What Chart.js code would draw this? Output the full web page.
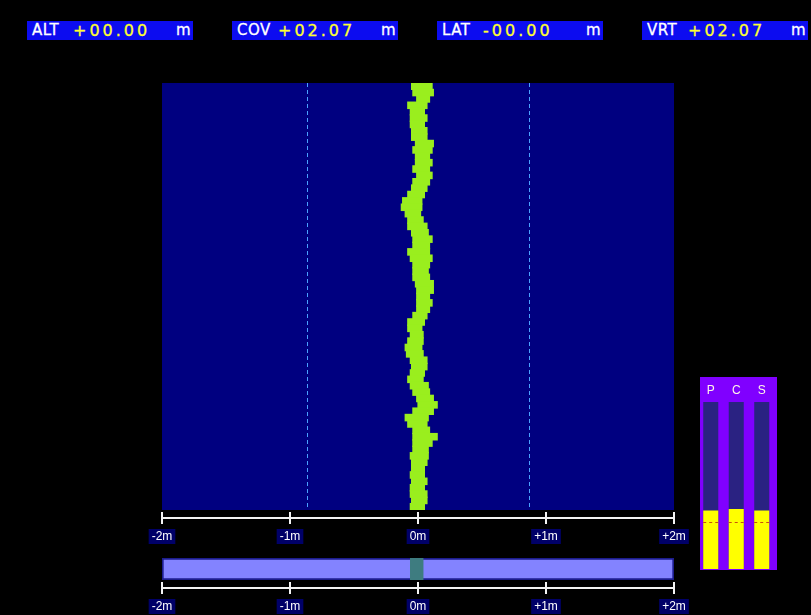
<!DOCTYPE html>
<html>
<head>
<meta charset="utf-8">
<script src="https://cdn.jsdelivr.net/npm/chart.js@4.4.1/dist/chart.umd.min.js"></script>
<style>
  html, body { margin: 0; padding: 0; background: #000; }
  body { width: 811px; height: 615px; position: relative; overflow: hidden; }
  canvas { position: absolute; }
  .readout {
    position: absolute; top: 21px; height: 19px; width: 166px;
    background: #0c0cf0; font-family: 'DejaVu Sans', sans-serif; font-size: 15px;
    line-height: 19px; color: #fff; -webkit-text-stroke: 0.3px currentColor;
  }
  .readout span { position: absolute; top: 0; }
  .readout .lbl { left: 5px; letter-spacing: 0.5px; }
  .readout .val { left: 46px; color: #ffff30; letter-spacing: 3px; font-size: 16px; }
  .readout .unit { left: 149px; }
</style>
</head>
<body>
<div id="readouts"></div>
<canvas id="trace" width="811" height="615" style="left:0;top:0"></canvas>
<canvas id="slider" width="811" height="65" style="left:0;top:550px"></canvas>
<canvas id="gauge" width="85" height="193" style="left:695px;top:377px"></canvas>

<script>
/* --- Data --- */
const readoutNames = ['ALT', 'COV', 'LAT', 'VRT'];
const readoutValues = ['+00.00', '+02.07', '-00.00', '+02.07'];
const readoutLeft = [27, 232, 437, 642];

// lateral scale, metres
const tickValues = [-2, -1, 0, 1, 2];
const tickLabels = ['-2m', '-1m', '0m', '+1m', '+2m'];
const guideValues = [-0.87, 0.87];

// trace band edges per row (top to bottom), metres
const rowLeft = [
  -0.05, -0.04, -0.01, -0.08, -0.06, -0.06, -0.06, -0.05, -0.05, -0.02,
  -0.04, -0.02, -0.02, -0.04, -0.01, -0.04, -0.05, -0.08, -0.12, -0.13,
  -0.10, -0.08, -0.08, -0.05, -0.04, -0.04, -0.08, -0.06, -0.04, -0.04,
  -0.04, -0.02, -0.01, -0.01, -0.01, -0.01, -0.04, -0.08, -0.08, -0.06,
  -0.08, -0.10, -0.09, -0.06, -0.05, -0.06, -0.08, -0.06, -0.04, -0.01,
   0.00, -0.04, -0.10, -0.08, -0.04, -0.04, -0.04, -0.04, -0.06, -0.05,
  -0.05, -0.06, -0.05, -0.06, -0.06, -0.05, -0.06
];
const rowRight = [
  0.11, 0.12, 0.09, 0.07, 0.05, 0.07, 0.05, 0.07, 0.07, 0.12,
  0.11, 0.09, 0.11, 0.09, 0.11, 0.09, 0.07, 0.05, 0.03, 0.03,
  0.02, 0.04, 0.07, 0.08, 0.11, 0.09, 0.09, 0.11, 0.09, 0.08,
  0.09, 0.12, 0.12, 0.09, 0.11, 0.09, 0.07, 0.05, 0.03, 0.04,
  0.04, 0.03, 0.04, 0.07, 0.07, 0.05, 0.04, 0.08, 0.09, 0.12,
  0.15, 0.12, 0.08, 0.07, 0.09, 0.15, 0.11, 0.08, 0.08, 0.07,
  0.05, 0.05, 0.07, 0.05, 0.07, 0.07, 0.05
];
const rows = rowLeft.map((_, i) => String(i + 1));

// position slider
const sliderRange = [-2, 2];
const sliderMarker = [-0.06, 0.04];

// P / C / S gauge, percent of full column
const gaugeNames = ['P', 'C', 'S'];
const gaugeLevels = [35, 36, 35];
const gaugeFull = [100, 100, 100];
const gaugeThreshold = 28;

/* --- Readout boxes --- */
const holder = document.getElementById('readouts');
readoutNames.forEach((name, i) => {
  const d = document.createElement('div');
  d.className = 'readout';
  d.style.left = readoutLeft[i] + 'px';
  d.innerHTML = '<span class="lbl">' + name + '</span><span class="val">' +
    readoutValues[i] + '</span><span class="unit">m</span>';
  holder.appendChild(d);
});

/* --- Shared plugins --- */
const areaFill = color => ({
  id: 'areaFill',
  beforeDraw(chart) {
    const a = chart.chartArea, c = chart.ctx;
    c.save();
    c.fillStyle = color;
    c.fillRect(a.left, a.top, a.right - a.left, a.bottom - a.top);
    c.restore();
  }
});

// white ruler under the chart area with boxed labels
const meterAxis = {
  id: 'meterAxis',
  afterDraw(chart) {
    const a = chart.chartArea, c = chart.ctx, x = chart.scales.x;
    const y0 = a.bottom + 8;
    c.save();
    c.strokeStyle = '#f4f4f4';
    c.lineWidth = 2;
    c.beginPath();
    c.moveTo(x.getPixelForValue(tickValues[0]), y0);
    c.lineTo(x.getPixelForValue(tickValues[tickValues.length - 1]), y0);
    tickValues.forEach(v => {
      const px = Math.round(x.getPixelForValue(v));
      c.moveTo(px, y0 - 6);
      c.lineTo(px, y0 + 6);
    });
    c.stroke();
    c.font = '12px "Liberation Sans", Arial, sans-serif';
    c.textAlign = 'center';
    c.textBaseline = 'middle';
    tickValues.forEach((v, i) => {
      const px = x.getPixelForValue(v);
      const w = c.measureText(tickLabels[i]).width + 6;
      c.fillStyle = '#000068';
      c.fillRect(px - w / 2, y0 + 11, w, 15);
      c.fillStyle = '#ffffff';
      c.fillText(tickLabels[i], px, y0 + 19);
    });
    c.restore();
  }
};

const guides = {
  id: 'guides',
  beforeDatasetsDraw(chart) {
    const a = chart.chartArea, c = chart.ctx, x = chart.scales.x;
    c.save();
    c.strokeStyle = '#4aa2ff';
    c.lineWidth = 1;
    c.setLineDash([4, 3]);
    guideValues.forEach(v => {
      const px = Math.round(x.getPixelForValue(v)) + 0.5;
      c.beginPath();
      c.moveTo(px, a.top);
      c.lineTo(px, a.bottom);
      c.stroke();
    });
    c.restore();
  }
};

const baseOpts = {
  responsive: false,
  animation: false,
  events: [],
  plugins: { legend: { display: false }, tooltip: { enabled: false } }
};

/* --- Trace chart --- */
new Chart(document.getElementById('trace'), {
  type: 'bar',
  data: {
    labels: rows,
    datasets: [{
      data: rowLeft.map((l, i) => [l, rowRight[i]]),
      backgroundColor: '#9aee1e',
      borderWidth: 0,
      barPercentage: 1,
      categoryPercentage: 1,
      inflateAmount: 0.6
    }]
  },
  options: {
    ...baseOpts,
    indexAxis: 'y',
    layout: { padding: { left: 162, right: 137, top: 83, bottom: 105 } },
    scales: {
      x: { type: 'linear', min: -2, max: 2, display: false },
      y: { display: false }
    }
  },
  plugins: [areaFill('#000080'), guides, meterAxis]
});

/* --- Position slider --- */
new Chart(document.getElementById('slider'), {
  type: 'bar',
  data: {
    labels: ['pos'],
    datasets: [{
      data: [sliderMarker],
      backgroundColor: '#3e7c80',
      borderWidth: 0,
      barPercentage: 1,
      categoryPercentage: 1,
      grouped: false
    }, {
      data: [sliderRange],
      backgroundColor: '#8383ff',
      borderColor: '#1c1c8e',
      borderWidth: 2,
      borderSkipped: false,
      barPercentage: 1,
      categoryPercentage: 1,
      grouped: false
    }]
  },
  options: {
    ...baseOpts,
    indexAxis: 'y',
    layout: { padding: { left: 162, right: 137, top: 8, bottom: 35 } },
    scales: {
      x: { type: 'linear', min: -2, max: 2, display: false },
      y: { display: false }
    }
  },
  plugins: [meterAxis]
});

/* --- P / C / S gauge --- */
const gaugePanel = {
  id: 'gaugePanel',
  beforeDraw(chart) {
    const c = chart.ctx;
    c.save();
    c.fillStyle = '#8000ff';
    c.fillRect(5, 0, 77, chart.height);
    c.restore();
  },
  afterDraw(chart) {
    const c = chart.ctx, x = chart.scales.x, y = chart.scales.y;
    c.save();
    c.font = '12px "Liberation Sans", Arial, sans-serif';
    c.textAlign = 'center';
    c.textBaseline = 'middle';
    c.fillStyle = '#fff4e8';
    gaugeNames.forEach((n, i) => c.fillText(n, x.getPixelForValue(i), 14));
    const ty = Math.round(y.getPixelForValue(gaugeThreshold)) + 0.5;
    c.strokeStyle = '#c8500c';
    c.lineWidth = 1;
    c.setLineDash([3, 3]);
    chart.getDatasetMeta(1).data.forEach(bar => {
      c.beginPath();
      c.moveTo(bar.x - bar.width / 2, ty);
      c.lineTo(bar.x + bar.width / 2, ty);
      c.stroke();
    });
    c.restore();
  }
};

new Chart(document.getElementById('gauge'), {
  type: 'bar',
  data: {
    labels: gaugeNames,
    datasets: [{
      data: gaugeLevels,
      backgroundColor: '#ffff00',
      borderWidth: 0,
      barPercentage: 0.59,
      categoryPercentage: 1,
      grouped: false
    }, {
      data: gaugeFull,
      backgroundColor: '#2a2282',
      borderWidth: 0,
      barPercentage: 0.59,
      categoryPercentage: 1,
      grouped: false
    }]
  },
  options: {
    ...baseOpts,
    layout: { padding: { left: 3, right: 5.5, top: 25, bottom: 1 } },
    scales: {
      x: { display: false },
      y: { min: 0, max: 100, display: false }
    }
  },
  plugins: [gaugePanel]
});
</script>
</body>
</html>
